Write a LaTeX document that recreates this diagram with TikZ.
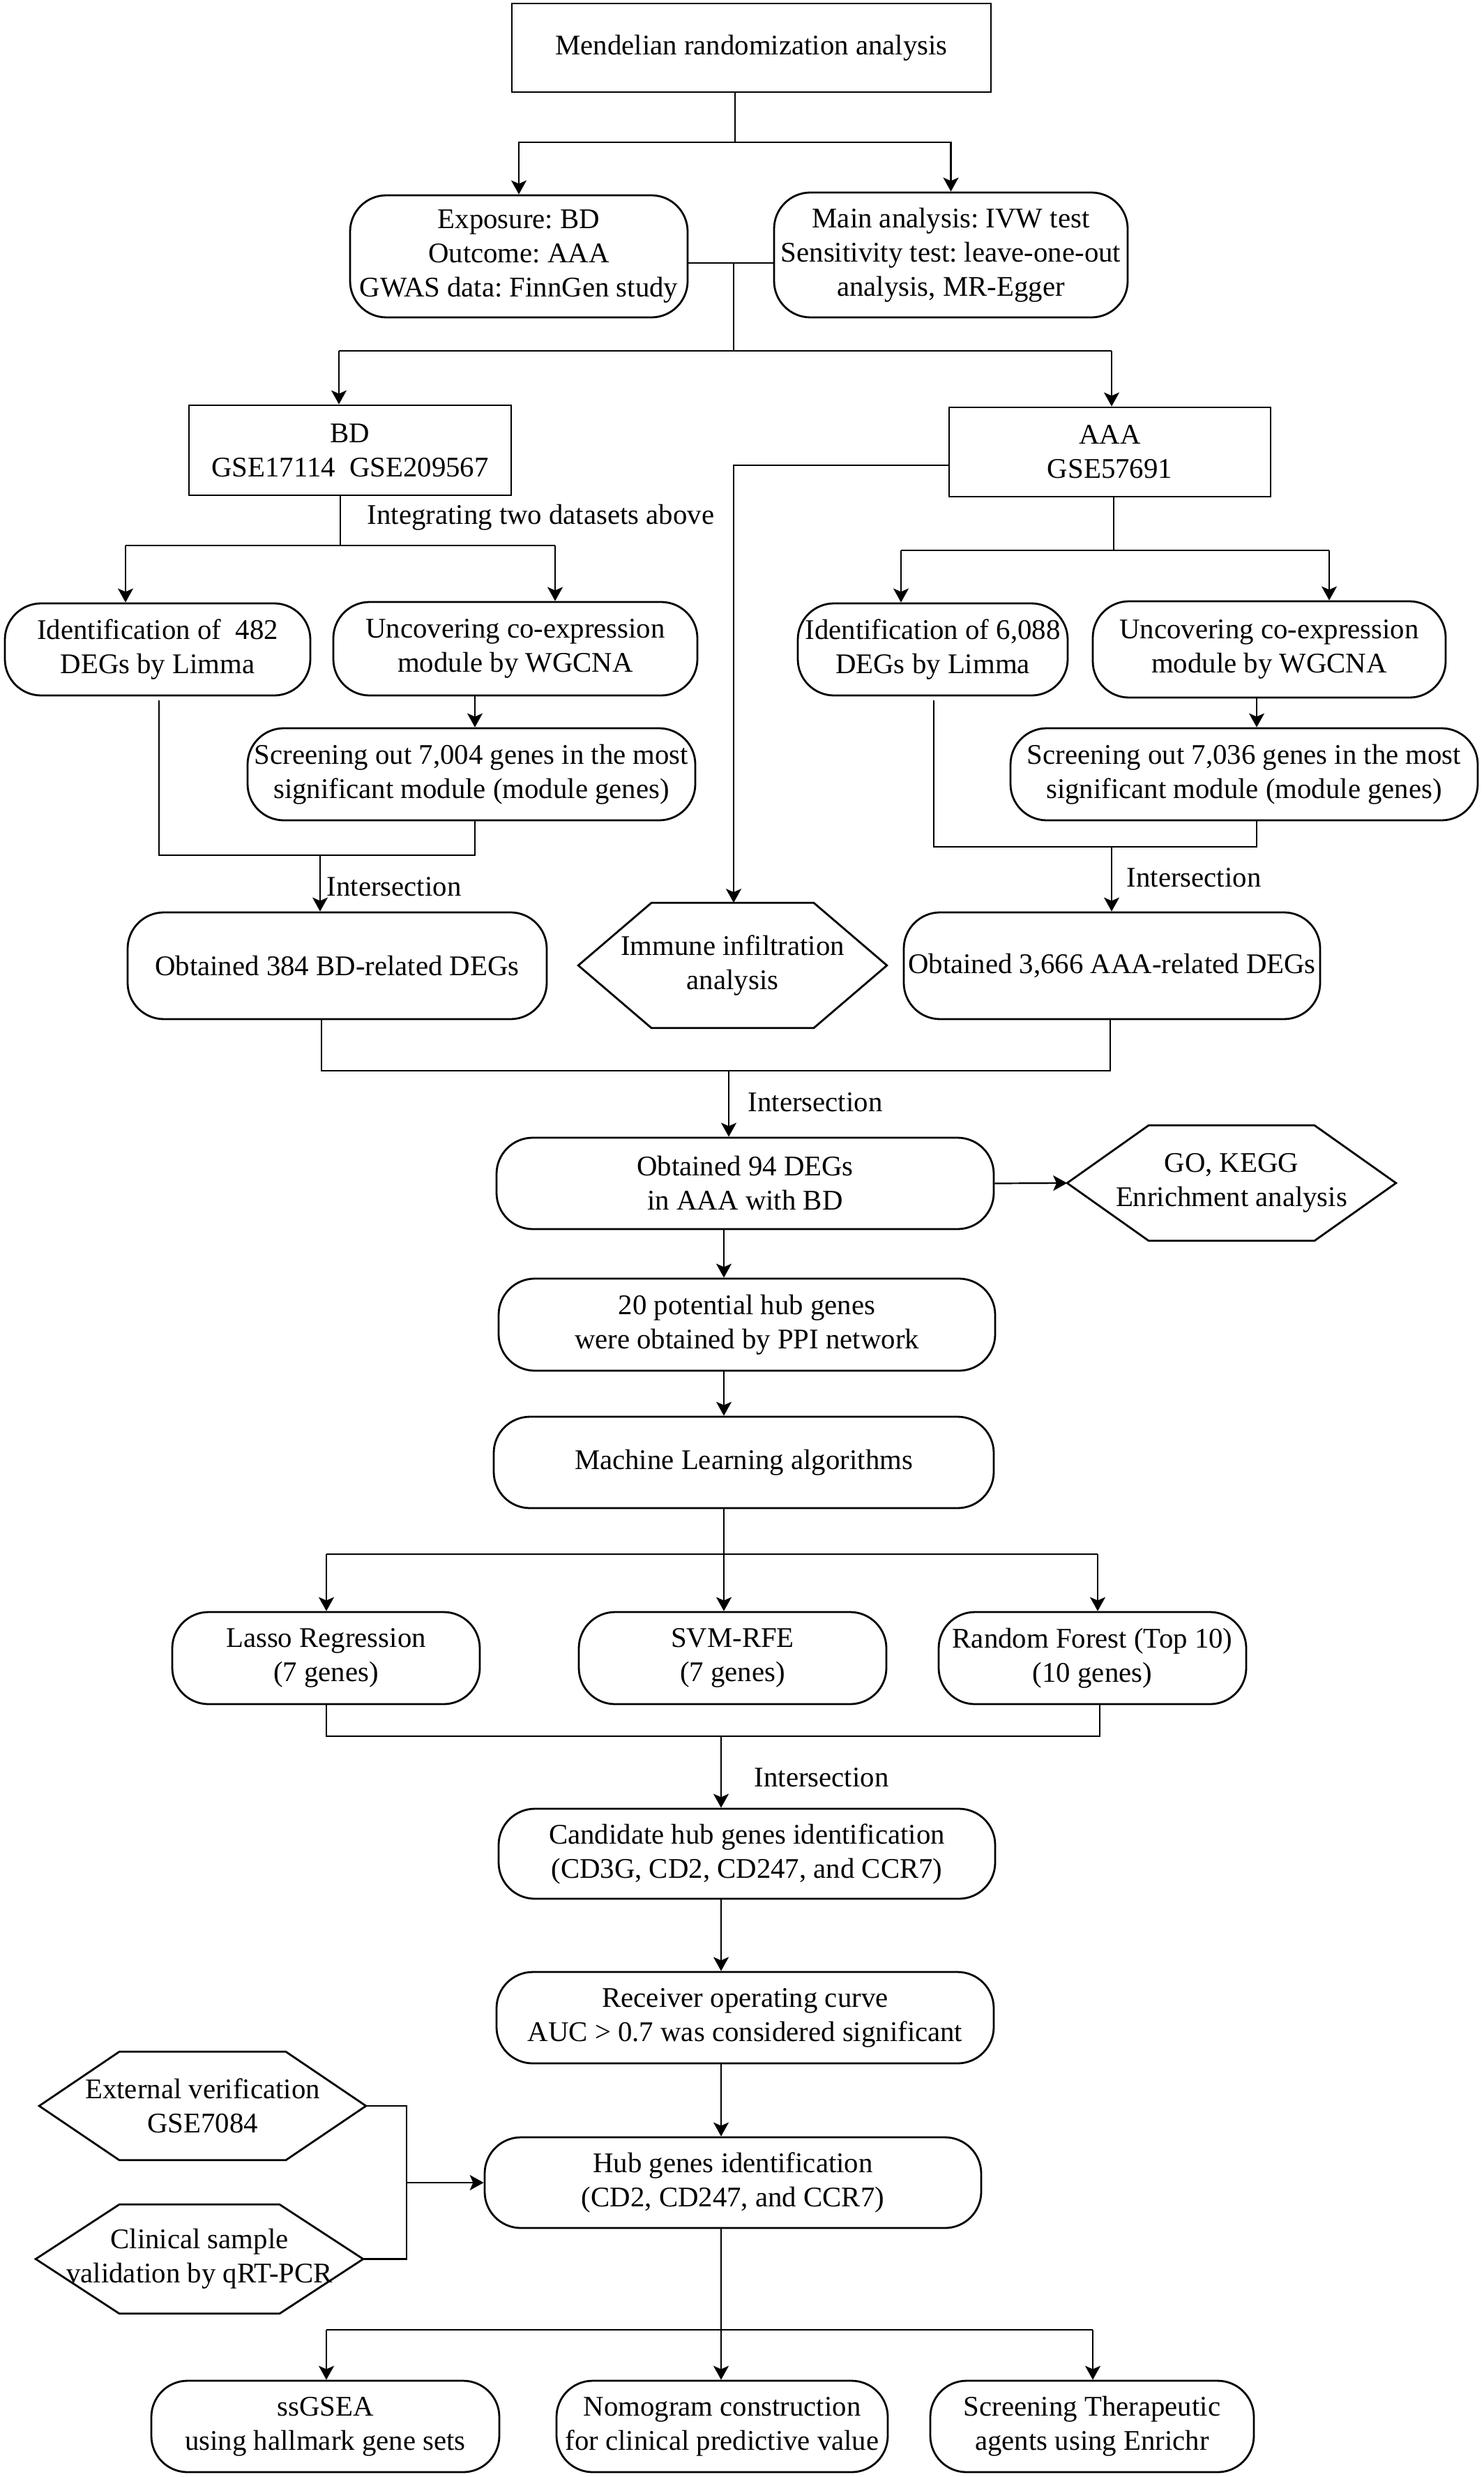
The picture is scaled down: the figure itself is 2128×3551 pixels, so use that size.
\documentclass[tikz,border=0pt]{standalone}
\usepackage{fontspec}
\setmainfont{Liberation Serif}
\usetikzlibrary{arrows.meta}
\frenchspacing
\begin{document}
\begin{tikzpicture}[x=0.25pt,y=-0.25pt,
  every node/.style={font=\fontsize{10.2pt}{12.25pt}\selectfont, align=center, inner sep=0pt},
  sq/.style 2 args={draw, line width=0.7pt, minimum width=#1*0.25pt, minimum height=#2*0.25pt},
  rd/.style 2 args={sq={#1}{#2}, rounded corners=13pt},
  hx/.style 2 args={minimum width=#1*0.25pt, minimum height=#2*0.25pt},
  hxline/.style={line width=0.7pt},
  ln/.style={line width=0.55pt},
  arr/.style={ln, -{Stealth[length=5pt,width=5.5pt,inset=1.2pt]}},
  lbl/.style={anchor=west}]
\useasboundingbox (0,0) rectangle (2128,3551);
\fill[white] (0,0) rectangle (2128,3551);

% ---- nodes ----
\node[sq={687}{127}] (mr) at (1077.5,68.5) {Mendelian randomization analysis};
\node[rd={484}{175}] (expo) at (744,367.5) {Exposure: BD\\Outcome: AAA\\GWAS data: FinnGen study};
\node[rd={507}{179}] (main) at (1363.5,365.5) {Main analysis: IVW test\\Sensitivity test: leave-one-out\\analysis, MR-Egger};
\node[sq={462}{129}] (bd) at (502,645.5) {BD\\GSE17114\ \ GSE209567};
\node[sq={461}{128}] (aaa) at (1591.5,648) {AAA\\GSE57691};
\node[lbl] (lint) at (526,742) {Integrating two datasets above};
\node[rd={438}{132}] (id1) at (226,931) {Identification of\ \ 482\\DEGs by Limma};
\node[rd={522}{134}] (unc1) at (739,930) {Uncovering co-expression\\module by WGCNA};
\node[rd={642}{132}] (scr1) at (676,1110) {Screening out 7,004 genes in the most\\significant module (module genes)};
\node[rd={387}{132}] (id2) at (1337.5,931) {Identification of 6,088\\DEGs by Limma};
\node[rd={506}{138}] (unc2) at (1820,931) {Uncovering co-expression\\module by WGCNA};
\node[rd={670}{132}] (scr2) at (1784,1110) {Screening out 7,036 genes in the most\\significant module (module genes)};
\node[rd={601}{153}] (bdrel) at (483.5,1384.5) {Obtained 384 BD-related DEGs};
\node[hx={441}{178}] (immune) at (1050.5,1384) {Immune infiltration\\analysis};
\node[rd={597}{153}] (aaarel) at (1594.5,1384.5) {Obtained 3,666 AAA-related DEGs};
\node[rd={713}{131}] (deg94) at (1068.5,1696.5) {Obtained 94 DEGs\\in AAA with BD};
\node[hx={470}{164}] (go) at (1766,1696) {GO, KEGG\\Enrichment analysis};
\node[rd={712}{132}] (ppi) at (1071,1899) {20 potential hub genes\\were obtained by PPI network};
\node[rd={717}{131}] (ml) at (1066.5,2096.5) {Machine Learning algorithms};
\node[rd={441}{132}] (lasso) at (467.5,2377) {Lasso Regression\\(7 genes)};
\node[rd={441}{132}] (svm) at (1050.5,2377) {SVM-RFE\\(7 genes)};
\node[rd={441}{132}] (rf) at (1566.5,2377) {Random Forest (Top 10)\\(10 genes)};
\node[rd={712}{129}] (cand) at (1071,2657.5) {Candidate hub genes identification\\(CD3G, CD2, CD247, and CCR7)};
\node[rd={713}{131}] (roc) at (1068.5,2892.5) {Receiver operating curve\\AUC > 0.7 was considered significant};
\node[rd={712}{130}] (hub) at (1051,3129) {Hub genes identification\\(CD2, CD247, and CCR7)};
\node[hx={467}{154}] (ext) at (290.5,3019) {External verification\\GSE7084};
\node[hx={468}{155}] (clin) at (286,3238.5) {Clinical sample\\validation by qRT-PCR};
\node[rd={499}{131}] (ssgsea) at (466.5,3478.5) {ssGSEA\\using hallmark gene sets};
\node[rd={475}{131}] (nomo) at (1035.5,3478.5) {Nomogram construction\\for clinical predictive value};
\node[rd={464}{131}] (ther) at (1566,3478.5) {Screening Therapeutic\\agents using Enrichr};

% ---- hexagon outlines ----
\draw[hxline] (immune.west) -- ([xshift=26.25pt]immune.north west) -- ([xshift=-26.25pt]immune.north east) -- (immune.east) -- ([xshift=-26.25pt]immune.south east) -- ([xshift=26.25pt]immune.south west) -- cycle;
\draw[hxline] (go.west) -- ([xshift=29.25pt]go.north west) -- ([xshift=-29.25pt]go.north east) -- (go.east) -- ([xshift=-29.25pt]go.south east) -- ([xshift=29.25pt]go.south west) -- cycle;
\draw[hxline] (ext.west) -- ([xshift=28.75pt]ext.north west) -- ([xshift=-28.75pt]ext.north east) -- (ext.east) -- ([xshift=-28.75pt]ext.south east) -- ([xshift=28.75pt]ext.south west) -- cycle;
\draw[hxline] (clin.west) -- ([xshift=30pt]clin.north west) -- ([xshift=-30pt]clin.north east) -- (clin.east) -- ([xshift=-30pt]clin.south east) -- ([xshift=30pt]clin.south west) -- cycle;

% ---- connectors ----
\coordinate (j1) at (1054,204);
\draw[ln] (mr.south -| j1) -- (j1);
\draw[arr] (j1) -| (expo.north);
\draw[arr] (j1) -| (main.north);

\coordinate (j2) at (1052,377);
\coordinate (j3) at (1052,503);
\coordinate (a1) at (486,503);
\coordinate (a2) at (1594,503);
\draw[ln] (expo.east |- j2) -- (main.west |- j2);
\draw[ln] (j2) -- (j3);
\draw[ln] (a1) -- (a2);
\draw[arr] (a1) -- (a1 |- bd.north);
\draw[arr] (a2) -- (a2 |- aaa.north);

\coordinate (k1) at (1052,667);
\draw[arr] (aaa.west |- k1) -- (k1) -- (k1 |- immune.north);

\coordinate (b1) at (488,782);
\coordinate (b1l) at (180,782);
\coordinate (b1r) at (796,782);
\draw[ln] (b1 |- bd.south) -- (b1);
\draw[ln] (b1l) -- (b1r);
\draw[arr] (b1l) -- (b1l |- id1.north);
\draw[arr] (b1r) -- (b1r |- unc1.north);

\coordinate (b2) at (1597,789);
\coordinate (b2l) at (1292,789);
\coordinate (b2r) at (1906,789);
\draw[ln] (b2 |- aaa.south) -- (b2);
\draw[ln] (b2l) -- (b2r);
\draw[arr] (b2l) -- (b2l |- id2.north);
\draw[arr] (b2r) -- (b2r |- unc2.north);

\coordinate (u1) at (681,0);
\draw[arr] (u1 |- unc1.south) -- (u1 |- scr1.north);
\coordinate (u2) at (1802,0);
\draw[arr] (u2 |- unc2.south) -- (u2 |- scr2.north);

\coordinate (g1) at (228,1004);
\coordinate (m1l) at (228,1226);
\coordinate (m1r) at (681,1226);
\coordinate (m1) at (459,1226);
\draw[ln] (g1) -- (m1l) -- (m1r) -- (m1r |- scr1.south);
\draw[arr] (m1) -- (m1 |- bdrel.north);
\node[lbl] (int1) at (468,1271) {Intersection};

\coordinate (g2) at (1339,1004);
\coordinate (m2l) at (1339,1214);
\coordinate (m2r) at (1802,1214);
\coordinate (m2) at (1594,1214);
\draw[ln] (g2) -- (m2l) -- (m2r) -- (m2r |- scr2.south);
\draw[arr] (m2) -- (m2 |- aaarel.north);
\node[lbl] (int2) at (1615,1258) {Intersection};

\coordinate (m3l) at (461,1535);
\coordinate (m3r) at (1592,1535);
\coordinate (m3) at (1045,1535);
\draw[ln] (m3l |- bdrel.south) -- (m3l) -- (m3r) -- (m3r |- aaarel.south);
\draw[arr] (m3) -- (m3 |- deg94.north);
\node[lbl] (int3) at (1072,1580) {Intersection};

\draw[arr] (deg94.east) -- (go.west);

\coordinate (t1) at (1038,0);
\draw[arr] (t1 |- deg94.south) -- (t1 |- ppi.north);
\draw[arr] (t1 |- ppi.south) -- (t1 |- ml.north);
\draw[arr] (t1 |- ml.south) -- (t1 |- svm.north);
\coordinate (s3l) at (468,2228);
\coordinate (s3r) at (1574,2228);
\draw[ln] (s3l) -- (s3r);
\draw[arr] (s3l) -- (s3l |- lasso.north);
\draw[arr] (s3r) -- (s3r |- rf.north);

\coordinate (m4l) at (468,2489);
\coordinate (m4r) at (1577,2489);
\coordinate (m4) at (1034,2489);
\draw[ln] (m4l |- lasso.south) -- (m4l) -- (m4r) -- (m4r |- rf.south);
\draw[arr] (m4) -- (m4 |- cand.north);
\node[lbl] (int4) at (1081,2548) {Intersection};

\coordinate (t2) at (1034,0);
\draw[arr] (t2 |- cand.south) -- (t2 |- roc.north);
\draw[arr] (t2 |- roc.south) -- (t2 |- hub.north);

\coordinate (v1) at (583,0);
\draw[ln] (ext.east) -- (ext.east -| v1) -- (clin.east -| v1) -- (clin.east);
\draw[arr] (v1 |- hub.west) -- (hub.west);

\draw[arr] (t2 |- hub.south) -- (t2 |- nomo.north);
\coordinate (s5l) at (468,3340);
\coordinate (s5r) at (1567,3340);
\draw[ln] (s5l) -- (s5r);
\draw[arr] (s5l) -- (s5l |- ssgsea.north);
\draw[arr] (s5r) -- (s5r |- ther.north);
\end{tikzpicture}
\end{document}
